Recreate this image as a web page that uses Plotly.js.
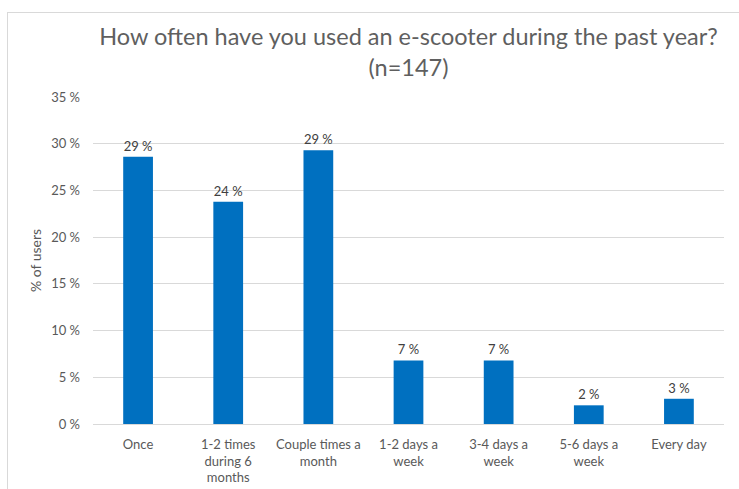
<!DOCTYPE html>
<html>
<head>
<meta charset="utf-8">
<script src="https://cdn.plot.ly/plotly-3.0.1.min.js"></script>
<style>
  html, body { margin: 0; padding: 0; background: #fff; width: 739px; height: 489px; overflow: hidden; }
  #frame { position: absolute; left: 7px; top: 12px; width: 740px; height: 480px;
           border-left: 1px solid #d9d9d9; border-top: 1px solid #d9d9d9; }
  #chart { position: absolute; left: 0; top: 0; width: 731px; height: 476px; }
</style>
</head>
<body>
<div id="frame"><div id="chart"></div></div>
<script>
const categories = ["Once", "1-2 times<br>during 6<br>months", "Couple times a<br>month",
                    "1-2 days a<br>week", "3-4 days a<br>week", "5-6 days a<br>week", "Every day"];
const shareOfUsers = [28.6, 23.8, 29.3, 6.8, 6.8, 2.0, 2.7];
const yTickStep = 5;
const yMax = 35;

const fontFamily = "Lato, 'Open Sans', sans-serif";

const trace = {
  type: "bar",
  x: categories,
  y: shareOfUsers,
  marker: { color: "#0070C0" },
  width: 0.33,
  texttemplate: "%{y:.0f} %",
  textposition: "outside",
  cliponaxis: false,
  textfont: { family: fontFamily, size: 13, color: "#404040" },
  hoverinfo: "skip"
};

const layout = {
  width: 731,
  height: 476,
  margin: { l: 85, r: 15, t: 84, b: 65 },
  paper_bgcolor: "#ffffff",
  plot_bgcolor: "#ffffff",
  showlegend: false,
  title: {
    text: "How often have you used an e-scooter during the past year?<br>(n=147)",
    x: 0.5, xref: "paper", xanchor: "center",
    y: 0.932, yref: "container", yanchor: "top",
    font: { family: fontFamily, size: 23.5, color: "#5f5f5f" }
  },
  xaxis: {
    type: "category",
    tickfont: { family: fontFamily, size: 13, color: "#595959" },
    showgrid: false,
    showline: true,
    linecolor: "#d9d9d9",
    linewidth: 1,
    ticks: "",
    tickangle: 0,
    ticklabelstandoff: 8
  },
  yaxis: {
    range: [0, yMax],
    tickmode: "linear",
    tick0: 0,
    dtick: yTickStep,
    ticksuffix: " %",
    tickfont: { family: fontFamily, size: 13, color: "#595959" },
    showgrid: true,
    gridcolor: "#d9d9d9",
    gridwidth: 1,
    zeroline: false,
    showline: false,
    ticks: "",
    ticklabelstandoff: 12,
    title: { text: "% of users", standoff: 6, font: { family: fontFamily, size: 14, color: "#595959" } }
  },
  font: { family: fontFamily }
};

Plotly.newPlot("chart", [trace], layout, { displayModeBar: false, staticPlot: true });
</script>
</body>
</html>
